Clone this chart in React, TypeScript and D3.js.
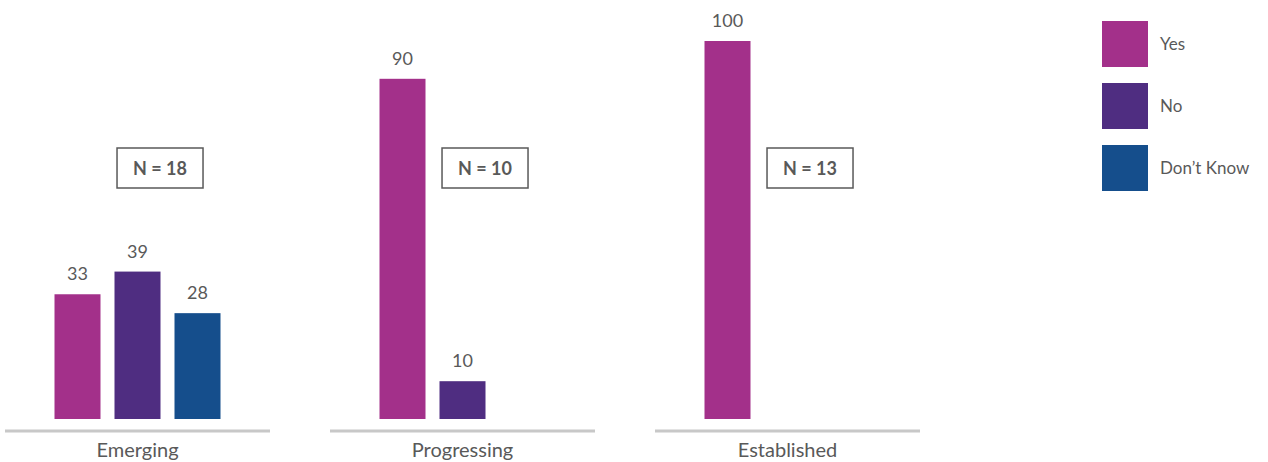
import React from "react";
import * as d3 from "d3";

const categories = ["Emerging", "Progressing", "Established"];
const seriesNames = ["Yes", "No", "Don\u2019t Know"];
const yesValues = [33, 90, 100];
const noValues = [39, 10, null];
const dontKnowValues = [28, null, null];
const nLabels = ["N = 18", "N = 10", "N = 13"];
const colors = ["#A3308A", "#4F2D81", "#154E8C"];

const W = 1268;
const H = 462;
const FONT = "Lato, 'Open Sans', sans-serif";
const TEXT = "#595959";

export default function App() {
  const series = [yesValues, noValues, dontKnowValues];
  const panelX = d3.scaleBand().domain(categories).range([5, 920]).paddingInner(60 / 325).paddingOuter(0);
  const groupW = 166;
  const inner = d3.scaleBand().domain(seriesNames).range([0, groupW]).paddingInner(14 / 60).paddingOuter(0);
  const y = d3.scaleLinear().domain([0, 100]).range([419, 41]);
  const pw = panelX.bandwidth();

  return (
    <svg width={W} height={H} style={{ position: "absolute", left: 0, top: 0, background: "#fff" }} fontFamily={FONT}>
      {categories.map((c, ci) => {
        const px = panelX(c)!;
        const off = px + (pw - groupW) / 2;
        return (
          <g key={c}>
            {series.map((vals, si) => {
              const v = vals[ci];
              if (v == null) return null;
              const x = off + inner(seriesNames[si])!;
              return (
                <g key={si}>
                  <rect x={x} y={y(v)} width={inner.bandwidth()} height={y(0) - y(v)} fill={colors[si]} />
                  <text x={x + inner.bandwidth() / 2} y={y(v) - 14} textAnchor="middle" fontSize={18} fill={TEXT}>
                    {v}
                  </text>
                </g>
              );
            })}
            <line x1={px} x2={px + pw} y1={431} y2={431} stroke="#C8C8C8" strokeWidth={3} />
            <text x={px + pw / 2} y={457} textAnchor="middle" fontSize={20} fill={TEXT}>
              {c}
            </text>
            <rect x={px + pw * 0.585 - 43} y={148} width={86} height={40} fill="#fff" stroke={TEXT} strokeWidth={1.5} />
            <text x={px + pw * 0.585} y={175} textAnchor="middle" fontSize={18} fontWeight="bold" fill={TEXT}>
              {nLabels[ci]}
            </text>
          </g>
        );
      })}
      {seriesNames.map((s, i) => (
        <g key={s}>
          <rect x={1102} y={21 + i * 62} width={46} height={46} fill={colors[i]} />
          <text x={1160} y={50 + i * 62} fontSize={17} fill={TEXT}>
            {s}
          </text>
        </g>
      ))}
    </svg>
  );
}
